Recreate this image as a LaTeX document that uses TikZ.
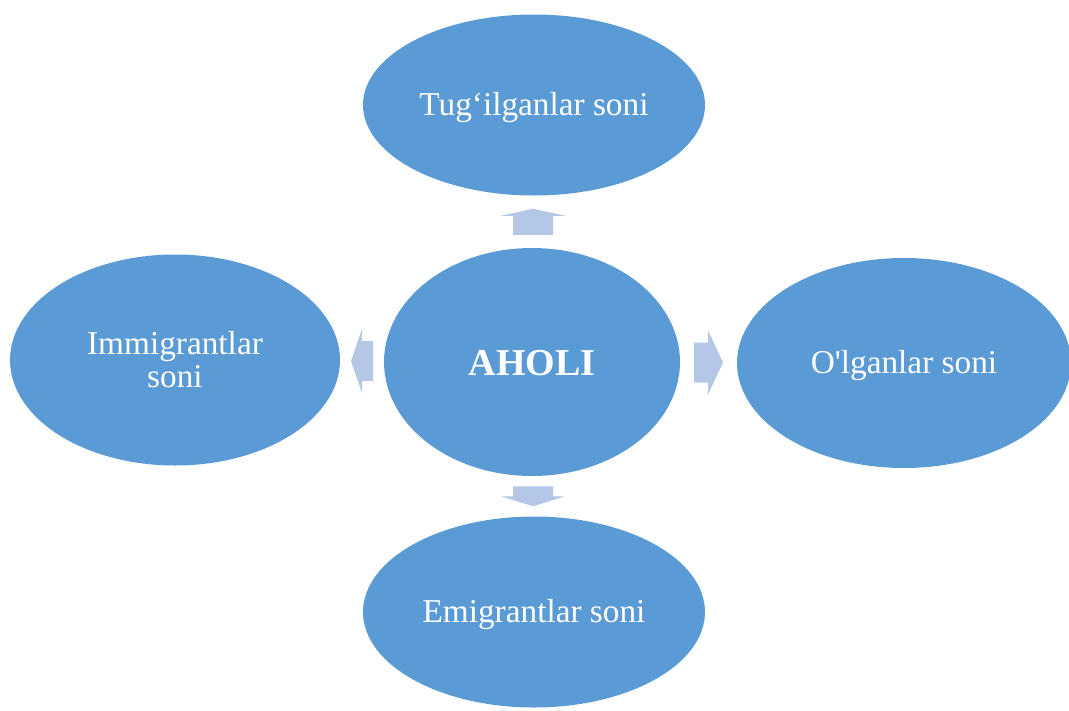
\documentclass[tikz,border=0pt]{standalone}
\usepackage{fontspec}
\setmainfont{Liberation Serif}[Ligatures=TeXOff]
\usetikzlibrary{calc,shapes.geometric}
\definecolor{ovalblue}{HTML}{5B9BD5}
\definecolor{arrowblue}{HTML}{B4C7E7}
\tikzset{
    oval/.style = {
        ellipse,
        fill = ovalblue,
        text = white,
        inner sep = 0pt,
        align = center,
        text height = 26pt,
        text depth = 5pt,
        font = \fontsize{33.3}{33}\selectfont,
        },
    two lines/.style = {
        text height = {},
        text depth = {},
        },
    main oval/.style = {
        oval,
        text height = 27pt,
        text depth = 0pt,
        font = \fontsize{38}{38}\selectfont\bfseries,
        },
    block arrow/.style = {
        fill = arrowblue,
        },
}
% #1 middle point, #2 direction, #3 shaft length, #4 head length
\newcommand\blockarrow[4]{%
    \fill[block arrow, shift={(#1)}, rotate=#2]
        ({-(#3+#4)/2},-20) -- ({-(#3+#4)/2+#3},-20) -- ({-(#3+#4)/2+#3},-32)
        -- ({(#3+#4)/2},0) -- ({-(#3+#4)/2+#3},32) -- ({-(#3+#4)/2+#3},20)
        -- ({-(#3+#4)/2},20) -- cycle;
}

\begin{document}
\begin{tikzpicture}[x=1pt, y=-1pt]
            \useasboundingbox (0,0) rectangle (1069,710);
            \node[oval, minimum width=342, minimum height=181] (tug) at (534,105) {Tug‘ilganlar soni};
            \node[main oval, minimum width=296, minimum height=228] (aholi) at (532,362) {AHOLI};
            \node[oval, two lines, minimum width=330, minimum height=211] (imm) at (175,360) {Immigrantlar\\soni};
            \node[oval, minimum width=334, minimum height=210] (olg) at (904,363) {O'lganlar soni};
            \node[oval, minimum width=342, minimum height=191] (emi) at (534,612) {Emigrantlar soni};

            \blockarrow{$(aholi.north)!0.5!(tug.south)$}{90}{19}{7}
            \blockarrow{$(aholi.west)!0.5!(imm.east)$}{180}{11}{11}
            \blockarrow{$(aholi.east)!0.5!(olg.west)$}{0}{14}{15}
            \blockarrow{$(aholi.south)!0.5!(emi.north)$}{270}{10}{10}
        \end{tikzpicture}
\end{document}
